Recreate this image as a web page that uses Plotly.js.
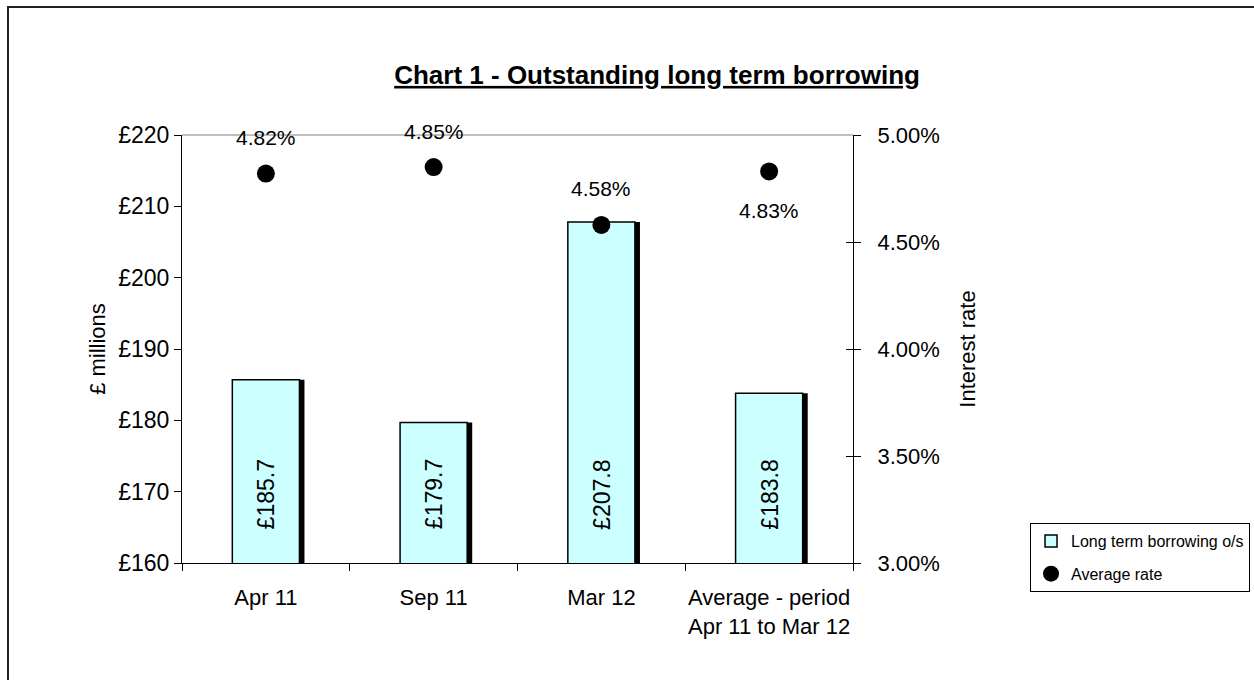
<!DOCTYPE html>
<html>
<head>
<meta charset="utf-8">
<script src="https://cdn.plot.ly/plotly-3.0.1.min.js"></script>
<style>html,body{margin:0;padding:0;background:#fff;}#chart{width:1254px;height:680px;}</style>
</head>
<body>
<div id="chart"></div>
<script>
// ---- data ----
const categories = ['Apr 11', 'Sep 11', 'Mar 12', 'Average - period<br>Apr 11 to Mar 12'];
const borrowing = [185.7, 179.7, 207.8, 183.8];          // £ millions
const avgRate = [0.0482, 0.0485, 0.0458, 0.0483];        // interest rate
const leftTickVals = [160, 170, 180, 190, 200, 210, 220];
const leftTickText = ['£160', '£170', '£180', '£190', '£200', '£210', '£220'];
const rightTickVals = [0.03, 0.035, 0.04, 0.045, 0.05];
const rightTickText = ['3.00%', '3.50%', '4.00%', '4.50%', '5.00%'];
const rateLabelAbove = [true, true, true, false];

const FONT = 'Liberation Sans, Arial, sans-serif';
const barW = 0.4;

const traces = [
  { // shadow
    type: 'bar', x: categories, y: borrowing,
    width: barW, offset: -barW / 2 + 0.03,
    marker: { color: '#000000', line: { width: 0 } },
    showlegend: false, hoverinfo: 'skip'
  },
  {
    type: 'bar', name: 'Long term borrowing o/s', x: categories, y: borrowing,
    width: barW, offset: -barW / 2, legendgroup: 'a',
    marker: { color: '#CCFFFF', line: { color: '#000000', width: 1.5 } }
  },
  {
    type: 'scatter', mode: 'markers', name: 'Average rate', x: categories, y: avgRate,
    yaxis: 'y2', legendgroup: 'b', marker: { color: '#000000', size: 18, symbol: 'circle' },
    cliponaxis: false
  },
  { // carrier for the inner half of the right-axis cross ticks
    type: 'scatter', mode: 'markers', x: [], y: [], yaxis: 'y3',
    showlegend: false, hoverinfo: 'skip'
  }
];

const annotations = [];
categories.forEach((c, i) => {
  annotations.push({
    xref: 'x', yref: 'paper', x: c, y: 0.16, xanchor: 'center', yanchor: 'middle',
    text: '£' + borrowing[i].toFixed(1),
    textangle: -90, showarrow: false, font: { family: FONT, size: 23, color: '#000' }
  });
  annotations.push({
    xref: 'x', yref: 'y2', x: c, y: avgRate[i], text: (avgRate[i] * 100).toFixed(2) + '%',
    showarrow: false, yshift: rateLabelAbove[i] ? 36 : -39,
    font: { family: FONT, size: 21, color: '#000' }
  });
});

const layout = {
  width: 1254, height: 680,
  margin: { l: 182, r: 401, t: 135, b: 117, autoexpand: false },
  paper_bgcolor: '#ffffff', plot_bgcolor: '#ffffff',
  font: { family: FONT, size: 22, color: '#000' },
  barmode: 'overlay',
  title: {
    text: '<b><u>Chart 1 - Outstanding long term borrowing</u></b>',
    font: { family: FONT, size: 26, color: '#000' },
    x: 0.524, xref: 'container', xanchor: 'center',
    y: 0.89, yref: 'container', yanchor: 'middle'
  },
  xaxis: {
    type: 'category', showgrid: false, zeroline: false,
    showline: true, linecolor: '#000', linewidth: 1,
    ticks: 'outside', tickson: 'boundaries', ticklen: 7, tickcolor: '#000',
    ticklabelstandoff: 15, tickangle: 0,
    tickfont: { family: FONT, size: 22, color: '#000' }
  },
  yaxis: {
    range: [160, 220], tickvals: leftTickVals, ticktext: leftTickText,
    showgrid: false, zeroline: false, showline: true, linecolor: '#000', linewidth: 1,
    ticks: 'outside', ticklen: 7, tickcolor: '#000', ticklabelstandoff: 0,
    tickfont: { family: FONT, size: 23, color: '#000' },
    title: { text: '£ millions', font: { family: FONT, size: 22, color: '#000' }, standoff: 6 }
  },
  yaxis2: {
    range: [0.03, 0.05], tickvals: rightTickVals, ticktext: rightTickText,
    overlaying: 'y', side: 'right', anchor: 'x',
    showgrid: false, zeroline: false, showline: true, linecolor: '#000', linewidth: 1,
    ticks: 'outside', ticklen: 7, tickcolor: '#000', ticklabelstandoff: 12,
    tickfont: { family: FONT, size: 22, color: '#000' },
    title: { text: 'Interest rate', font: { family: FONT, size: 22, color: '#000' }, standoff: 20 }
  },
  yaxis3: {
    range: [0.03, 0.05], tickvals: rightTickVals,
    overlaying: 'y', side: 'right', anchor: 'x',
    showgrid: false, zeroline: false, showline: false, showticklabels: false,
    ticks: 'inside', ticklen: 7, tickcolor: '#000'
  },
  legend: {
    x: 1.5917, xanchor: 'right', y: 0.0935, yanchor: 'top',
    bordercolor: '#000', borderwidth: 1, bgcolor: '#fff',
    font: { family: FONT, size: 16, color: '#000' },
    tracegroupgap: 9, itemwidth: 30
  },
  shapes: [
    { type: 'line', xref: 'paper', yref: 'paper', x0: 0, x1: 1, y0: 1, y1: 1,
      line: { color: '#808080', width: 1 } },
    { type: 'rect', xref: 'paper', yref: 'paper', x0: -0.2593, x1: 1.75, y0: -0.4, y1: 1.2991,
      line: { color: '#222', width: 2 }, fillcolor: 'rgba(0,0,0,0)', layer: 'below' }
  ],
  annotations: annotations,
  showlegend: true
};

Plotly.newPlot('chart', traces, layout, { displayModeBar: false, staticPlot: true });
</script>
</body>
</html>
